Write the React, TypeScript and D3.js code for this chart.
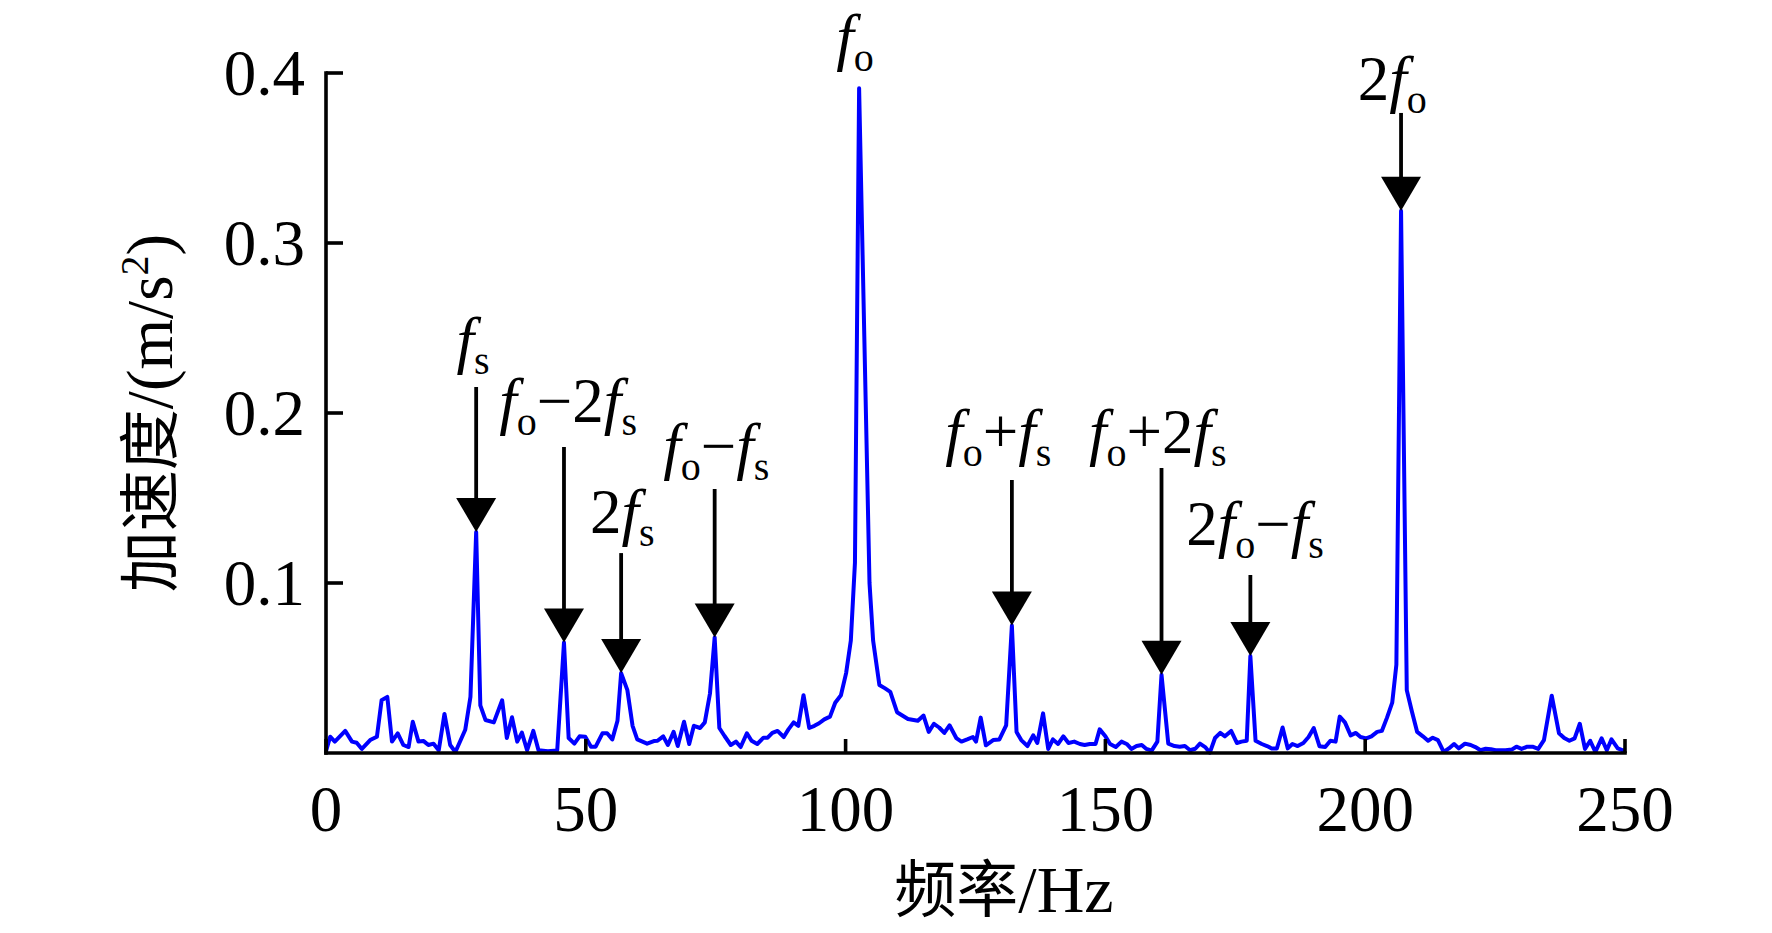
import React from "react";
import * as d3 from "d3";

const W = 1772;
const H = 933;

// Spectrum sample frequencies (Hz) and amplitudes (m/s^2)
const freqs = [
  0, 0.8, 1.7, 3.7, 5.0, 5.9, 6.9, 8.5, 9.8, 10.7, 11.8, 12.7, 13.8, 14.9, 15.9, 16.7, 17.8, 18.8, 19.7, 20.7,
  21.7, 22.8, 23.9, 24.9, 26.8, 27.8, 28.9, 29.7, 30.7, 32.3, 33.9, 34.8, 35.8, 36.8, 37.7, 38.7, 39.9, 40.9,
  42.7, 44.5, 45.8, 46.7, 47.8, 48.8, 49.9, 51.0, 51.9, 53.2, 54.1, 55.1, 56.1, 56.8, 58.0, 59.0, 59.9, 61.8,
  63.1, 63.8, 64.9, 65.8, 66.9, 67.7, 68.9, 69.9, 70.8, 72.0, 72.9, 73.9, 74.8, 75.7, 76.7, 77.9, 78.9, 79.8,
  81.0, 81.9, 83.0, 84.2, 85.0, 85.9, 86.9, 88.1, 89.0, 90.0, 90.9, 91.9, 93.0, 94.0, 94.9, 95.9, 97.0, 98.0,
  99.1, 100.1, 101.0, 101.8, 102.6, 103.6, 104.6, 105.3, 106.5, 107.6, 108.6, 109.9, 112.0, 113.9, 115.0,
  116.0, 117.0, 118.0, 119.0, 120.0, 121.3, 122.3, 123.4, 124.5, 125.1, 126.0, 127.0, 128.4, 129.6, 130.9,
  132.0, 132.9, 133.8, 135.0, 136.1, 136.9, 138.0, 139.0, 139.9, 140.9, 141.9, 142.9, 144.0, 145.1, 146.0,
  147.0, 148.1, 148.9, 150.0, 150.9, 152.0, 153.1, 154.1, 155.0, 156.0, 157.0, 157.9, 158.9, 160.0, 160.8,
  162.1, 163.3, 164.3, 165.3, 166.3, 167.3, 168.2, 169.2, 170.1, 171.1, 172.1, 173.0, 174.2, 175.3, 176.2,
  177.2, 177.9, 178.9, 180.1, 181.1, 182.0, 183.0, 184.1, 185.1, 186.0, 187.0, 188.1, 189.1, 190.1, 191.2,
  192.3, 193.3, 194.3, 195.1, 196.1, 197.2, 198.2, 199.1, 200.2, 201.2, 202.3, 203.2, 204.2, 205.2, 206.0,
  206.9, 208.0, 209.0, 210.0, 211.1, 212.1, 213.0, 214.0, 215.1, 216.1, 217.1, 218.0, 219.2, 220.3, 221.2,
  222.2, 223.2, 224.2, 225.1, 226.1, 227.0, 228.2, 229.1, 230.1, 231.2, 232.2, 233.3, 234.4, 235.9, 237.3,
  238.3, 239.3, 240.3, 241.3, 242.3, 243.3, 244.3, 245.5, 246.5, 247.4, 248.6, 249.6, 250.0,
];

const amps = [
  0.001, 0.0096, 0.0067, 0.013, 0.0067, 0.006, 0.0024, 0.0076, 0.0096, 0.031, 0.033, 0.0067, 0.0116, 0.0047,
  0.0035, 0.0184, 0.0067, 0.007, 0.0047, 0.0055, 0.0016, 0.023, 0.0047, 0.0006, 0.0137, 0.033, 0.13, 0.028,
  0.0194, 0.018, 0.031, 0.0088, 0.021, 0.0067, 0.012, 0.0016, 0.013, 0.0016, 0.001, 0.0015, 0.065, 0.0088,
  0.0055, 0.0098, 0.0096, 0.0037, 0.0037, 0.0116, 0.0116, 0.008, 0.019, 0.047, 0.037, 0.016, 0.008, 0.0055,
  0.007, 0.0072, 0.0098, 0.0047, 0.0124, 0.0041, 0.0184, 0.0053, 0.016, 0.0147, 0.018, 0.035, 0.068, 0.0147,
  0.01, 0.0047, 0.0067, 0.0035, 0.0116, 0.0072, 0.0053, 0.009, 0.009, 0.0118, 0.013, 0.0094, 0.0139, 0.018,
  0.016, 0.034, 0.0147, 0.016, 0.0175, 0.0198, 0.0214, 0.0296, 0.034, 0.047, 0.066, 0.112, 0.391, 0.245,
  0.1, 0.066, 0.04, 0.038, 0.036, 0.024, 0.02, 0.019, 0.022, 0.0124, 0.0172, 0.015, 0.0118, 0.0163, 0.0088,
  0.0067, 0.008, 0.0094, 0.0067, 0.0208, 0.0045, 0.0076, 0.008, 0.0163, 0.075, 0.0124, 0.0076, 0.0041,
  0.0104, 0.0059, 0.0233, 0.0024, 0.008, 0.0053, 0.0098, 0.0059, 0.0067, 0.0053, 0.0047, 0.0053, 0.0053,
  0.0139, 0.0098, 0.0053, 0.0035, 0.0067, 0.0053, 0.0024, 0.0041, 0.0047, 0.0024, 0.0014, 0.0067, 0.046,
  0.0055, 0.0041, 0.0037, 0.0041, 0.0016, 0.0025, 0.0055, 0.0035, 0.0002, 0.0088, 0.0118, 0.0098, 0.013,
  0.0059, 0.0067, 0.0072, 0.057, 0.0072, 0.0053, 0.0041, 0.0027, 0.0027, 0.015, 0.0027, 0.0053, 0.0041,
  0.0059, 0.0094, 0.0147, 0.004, 0.0035, 0.0072, 0.0067, 0.0214, 0.018, 0.0104, 0.0118, 0.0094, 0.0086,
  0.0098, 0.0124, 0.013, 0.0208, 0.0296, 0.052, 0.319, 0.037, 0.0243, 0.0124, 0.0098, 0.0072, 0.009, 0.0076,
  0.0006, 0.0027, 0.0053, 0.0027, 0.0055, 0.0047, 0.0035, 0.0016, 0.0025, 0.0022, 0.0016, 0.0016, 0.0016,
  0.002, 0.0037, 0.0024, 0.0037, 0.0037, 0.0024, 0.0076, 0.0337, 0.0116, 0.0088, 0.0072, 0.0086, 0.0172,
  0.0024, 0.0072, 0.0006, 0.0086, 0.0016, 0.008, 0.0027, 0.0016, 0.0014,
];

const xTicks = [0, 50, 100, 150, 200, 250];
const yTicks = [0.1, 0.2, 0.3, 0.4];
const yTickLabels = ["0.1", "0.2", "0.3", "0.4"];

type Part = { t: string; it?: boolean; sub?: boolean };

// Peak annotations: label parts, arrow frequency, peak amplitude, arrow start amplitude,
// label centre frequency and label baseline amplitude
const annLabels: Part[][] = [
  [{ t: "f", it: true }, { t: "s", sub: true }],
  [{ t: "f", it: true }, { t: "o", sub: true }, { t: "\u22122" }, { t: "f", it: true }, { t: "s", sub: true }],
  [{ t: "2" }, { t: "f", it: true }, { t: "s", sub: true }],
  [{ t: "f", it: true }, { t: "o", sub: true }, { t: "\u2212" }, { t: "f", it: true }, { t: "s", sub: true }],
  [{ t: "f", it: true }, { t: "o", sub: true }],
  [{ t: "f", it: true }, { t: "o", sub: true }, { t: "+" }, { t: "f", it: true }, { t: "s", sub: true }],
  [{ t: "f", it: true }, { t: "o", sub: true }, { t: "+2" }, { t: "f", it: true }, { t: "s", sub: true }],
  [{ t: "2" }, { t: "f", it: true }, { t: "o", sub: true }, { t: "\u2212" }, { t: "f", it: true }, { t: "s", sub: true }],
  [{ t: "2" }, { t: "f", it: true }, { t: "o", sub: true }],
];
const annFreq = [28.9, 45.8, 56.8, 74.8, 102.6, 132.0, 160.8, 177.9, 206.9];
const annPeak = [0.13, 0.065, 0.047, 0.068, 0.391, 0.075, 0.046, 0.057, 0.319];
const annArrowFrom: (number | null)[] = [0.2153, 0.18, 0.1176, 0.1553, null, 0.1606, 0.1676, 0.1047, 0.3765];
const annLabelFreq = [28.3, 46.6, 57.0, 75.1, 101.8, 129.4, 160.1, 178.8, 205.2];
const annLabelAmp = [0.2306, 0.1947, 0.1294, 0.1682, 0.4088, 0.1765, 0.1765, 0.1224, 0.3841];

const SERIF = "'Liberation Serif', 'Times New Roman', 'DejaVu Serif', serif";
const CJK = "'Liberation Serif', 'Noto Sans CJK SC', serif";

export default function App() {
  const x = d3.scaleLinear().domain([0, 250]).range([326, 1625]);
  const y = d3.scaleLinear().domain([0, 0.4]).range([753, 73]);

  const pts: [number, number][] = freqs.map((f, i) => [f, amps[i]]);
  const lineGen = d3
    .line<[number, number]>()
    .x((d) => x(d[0]))
    .y((d) => y(d[1]));

  const axisW = 3.6;
  const mainFont = 63;
  const subFont = 40;
  const subShift = 13;

  const renderLabel = (parts: Part[], cx: number, by: number, key: string) => {
    const spans: React.ReactNode[] = [];
    let cur = 0;
    parts.forEach((p, j) => {
      const target = p.sub ? subShift : 0;
      const dy = target - cur;
      cur = target;
      spans.push(
        <tspan
          key={j}
          dy={dy}
          fontStyle={p.it ? "italic" : "normal"}
          fontSize={p.sub ? subFont : mainFont}
        >
          {p.t}
        </tspan>
      );
    });
    return (
      <text key={key} x={cx} y={by} textAnchor="middle" fontFamily={SERIF} fill="#000">
        {spans}
      </text>
    );
  };

  return (
    <svg
      width={W}
      height={H}
      viewBox={`0 0 ${W} ${H}`}
      style={{ position: "absolute", left: 0, top: 0, background: "#fff" }}
    >
      <rect x={0} y={0} width={W} height={H} fill="#fff" />

      {/* data line */}
      <path d={lineGen(pts) || ""} fill="none" stroke="#0000ff" strokeWidth={4} strokeLinejoin="round" />

      {/* axes */}
      <line x1={x(0)} x2={x(250)} y1={y(0)} y2={y(0)} stroke="#000" strokeWidth={axisW} strokeLinecap="square" />
      <line x1={x(0)} x2={x(0)} y1={y(0)} y2={y(0.4)} stroke="#000" strokeWidth={axisW} strokeLinecap="square" />
      {xTicks.map((t) => (
        <g key={"xt" + t}>
          <line x1={x(t)} x2={x(t)} y1={y(0)} y2={y(0) - 14} stroke="#000" strokeWidth={axisW} />
          <text x={x(t)} y={831} textAnchor="middle" fontFamily={SERIF} fontSize={65} fill="#000">
            {t}
          </text>
        </g>
      ))}
      {yTicks.map((t, i) => (
        <g key={"yt" + t}>
          <line x1={x(0)} x2={x(0) + 17} y1={y(t)} y2={y(t)} stroke="#000" strokeWidth={axisW} />
          <text x={305} y={y(t) + 22} textAnchor="end" fontFamily={SERIF} fontSize={65} fill="#000">
            {yTickLabels[i]}
          </text>
        </g>
      ))}

      {/* axis titles */}
      <text x={1004} y={912} textAnchor="middle" fontFamily={CJK} fontSize={66} fill="#000">
        <tspan fontFamily="'Noto Sans CJK SC', sans-serif" fontSize={62}>频率</tspan>
        <tspan>/Hz</tspan>
      </text>
      <text
        transform={`translate(172, 413) rotate(-90)`}
        textAnchor="middle"
        fontFamily={CJK}
        fontSize={65}
        fill="#000"
      >
        <tspan fontFamily="'Noto Sans CJK SC', sans-serif" fontSize={61}>加速度</tspan>
        <tspan>/(m/s</tspan>
        <tspan fontSize={40} dy={-24}>2</tspan>
        <tspan dy={24}>)</tspan>
      </text>

      {/* annotations */}
      {annLabels.map((parts, i) => {
        const ax = x(annFreq[i]);
        const tip = y(annPeak[i]);
        const from = annArrowFrom[i];
        const headH = 34;
        const headW = 20;
        return (
          <g key={"ann" + i}>
            {from !== null && (
              <>
                <line x1={ax} x2={ax} y1={y(from)} y2={tip - headH + 2} stroke="#000" strokeWidth={3.8} />
                <path
                  d={`M${ax - headW},${tip - headH} L${ax + headW},${tip - headH} L${ax},${tip} Z`}
                  fill="#000"
                />
              </>
            )}
            {renderLabel(parts, x(annLabelFreq[i]), y(annLabelAmp[i]), "l" + i)}
          </g>
        );
      })}
    </svg>
  );
}
